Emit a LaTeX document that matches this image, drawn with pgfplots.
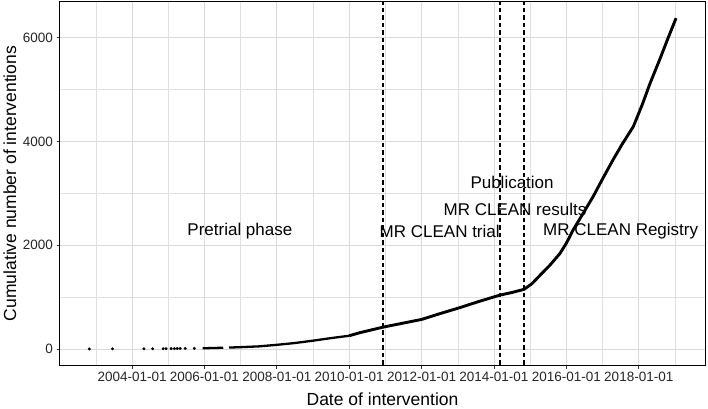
\documentclass[border=0pt]{standalone}
\usepackage{fontspec}
\setmainfont{Liberation Sans}
\usepackage{pgfplots}
\pgfplotsset{compat=1.18}
\begin{document}
\begin{tikzpicture}
\path[use as bounding box] (0,0) rectangle (708bp,409bp);
\begin{axis}[
  at={(60bp,44bp)}, anchor=south west,
  scale only axis, width=645bp, height=363bp,
  xmin=2002.01, xmax=2019.83, ymin=-309, ymax=6692,
  xtick={2004,2006,2008,2010,2012,2014,2016,2018},
  xticklabels={2004-01-01,2006-01-01,2008-01-01,2010-01-01,2012-01-01,2014-01-01,2016-01-01,2018-01-01},
  minor xtick={2003,2005,2007,2009,2011,2013,2015,2017,2019},
  ytick={0,2000,4000,6000},
  minor ytick={1000,3000,5000},
  xtick pos=bottom, ytick pos=left,
  /pgf/number format/assume math mode=true,
  scaled y ticks=false,
  yticklabel style={/pgf/number format/1000 sep={}},
  grid=both,
  major grid style={gray!30, line width=0.8bp},
  minor grid style={gray!24, line width=0.5bp},
  tick align=outside, major tick length=3.5bp, minor tick length=0pt,
  tick style={black!80, line width=0.8bp},
  axis line style={black, line width=1bp},
  ticklabel style={font=\fontsize{13.5bp}{16bp}\selectfont, text=black!85},
  xlabel={Date of intervention},
  ylabel={Cumulative number of interventions},
  label style={font=\fontsize{17.5bp}{20bp}\selectfont, text=black},
  xlabel style={at={(axis description cs:0.5,-0.1102)}, anchor=base},
  ylabel style={at={(axis description cs:-0.0682,0.5)}, anchor=base},
  clip=true,
]
% early individual interventions
\addplot[only marks, mark=*, mark size=1.3bp, black] coordinates {
(2002.82,1) (2003.46,2) (2004.33,3) (2004.57,4) (2004.86,5) (2004.94,6)
(2005.08,7) (2005.17,8) (2005.25,9) (2005.33,10) (2005.47,11) (2005.72,12)
};
\addplot[black, line width=2.3bp] coordinates {
(2005.95,13) (2006.2,18) (2006.52,24)
};
\addplot[black, line width=2.3bp] coordinates {
(2006.68,27) (2007.0,35) (2007.5,50) (2008.0,80) (2008.5,115) (2009.0,160)
(2009.5,210) (2010.0,255)
};
\addplot[black, line width=2.9bp, line join=round] coordinates {
(2010.0,255) (2010.3,315) (2010.57,360) (2010.93,420) (2011.5,500) (2012.0,570)
(2012.5,680) (2013.07,800) (2013.6,920) (2014.17,1040) (2014.5,1090)
(2014.83,1150) (2015.05,1260) (2015.27,1420) (2015.55,1620) (2015.82,1840)
(2016.0,2040) (2016.19,2300) (2016.45,2600) (2016.74,2940) (2017.0,3280)
(2017.29,3650) (2017.55,3960) (2017.85,4290) (2018.1,4720) (2018.31,5120)
(2018.6,5620) (2018.8,5980) (2019.03,6380)
};
% phase boundaries
\addplot[black, line width=1.4bp, dash pattern=on 4.5bp off 3bp] coordinates {(2010.93,-309) (2010.93,6692)};
\addplot[black, line width=1.4bp, dash pattern=on 4.5bp off 3bp] coordinates {(2014.17,-309) (2014.17,6692)};
\addplot[black, line width=1.4bp, dash pattern=on 4.5bp off 3bp] coordinates {(2014.83,-309) (2014.83,6692)};
% annotations
\begin{scope}[every node/.style={font=\fontsize{17bp}{20bp}\selectfont, text=black, inner sep=0pt}]
\node at (axis cs:2006.98,2270) {Pretrial phase};
\node at (axis cs:2012.5,2270) {MR CLEAN trial};
\node at (axis cs:2017.5,2270) {MR CLEAN Registry};
\node at (axis cs:2014.58,2700) {MR CLEAN results};
\node at (axis cs:2014.5,3210) {Publication};
\end{scope}
\end{axis}
\end{tikzpicture}
\end{document}
